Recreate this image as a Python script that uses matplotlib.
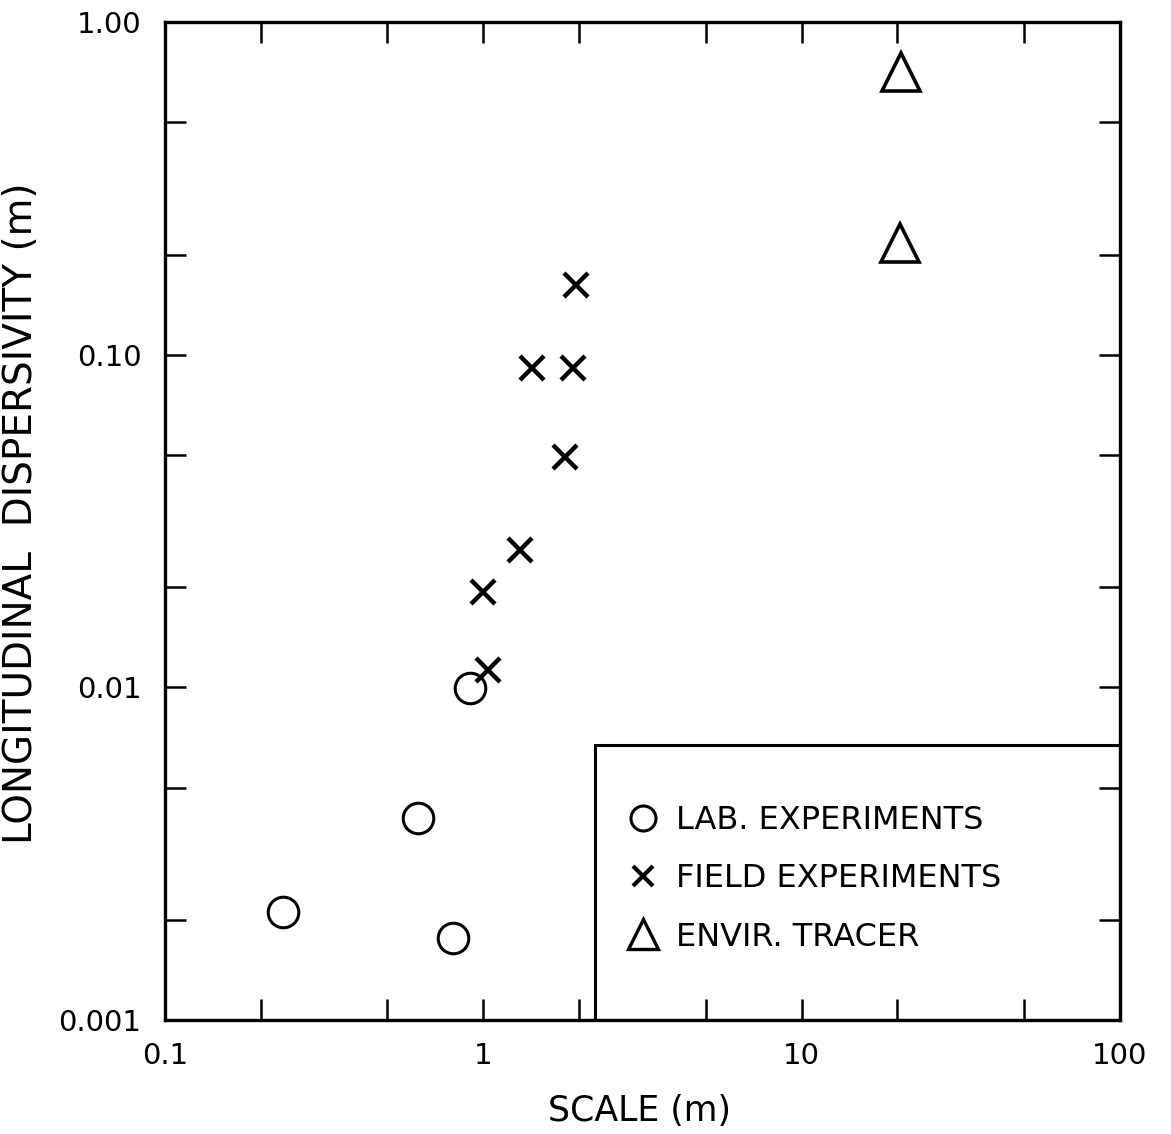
import matplotlib
matplotlib.use("Agg")
import matplotlib.pyplot as plt
from matplotlib.patches import Rectangle
from matplotlib.lines import Line2D
from matplotlib.ticker import FixedLocator, NullLocator, FixedFormatter

# données
lab_scale = [0.235, 0.624, 0.804, 0.908]
lab_disp = [0.00211, 0.00405, 0.00177, 0.00996]

field_scale = [1.035, 0.998, 1.30, 1.81, 1.42, 1.91, 1.95]
field_disp = [0.0113, 0.0194, 0.0259, 0.0493, 0.0912, 0.0912, 0.162]

tracer_scale = [20.5, 20.4]
tracer_disp = [0.707, 0.217]

series_labels = ["LAB. EXPERIMENTS", "FIELD EXPERIMENTS", "ENVIR. TRACER"]

x_major = [0.1, 1, 10, 100]
x_major_labels = ["0.1", "1", "10", "100"]
x_minor = [0.2, 0.5, 2, 5, 20, 50]
y_major = [0.001, 0.01, 0.1, 1.0]
y_major_labels = ["0.001", "0.01", "0.10", "1.00"]
y_minor = [0.002, 0.005, 0.02, 0.05, 0.2, 0.5]

plt.rcParams["font.family"] = ["DejaVu Sans"]

fig = plt.figure(figsize=(11.71, 11.34), dpi=100)
ax = fig.add_axes([0.1409, 0.1005, 0.8155, 0.8801])

ax.plot(lab_scale, lab_disp, linestyle="none", marker="o", markersize=22,
        markerfacecolor="none", markeredgecolor="black", markeredgewidth=2.2)
ax.plot(field_scale, field_disp, linestyle="none", marker="x", markersize=17,
        markeredgecolor="black", markeredgewidth=3.2)
ax.plot(tracer_scale, tracer_disp, linestyle="none", marker="^", markersize=28,
        markerfacecolor="none", markeredgecolor="black", markeredgewidth=2.6)

ax.set_xscale("log")
ax.set_yscale("log")
ax.set_xlim(0.1, 100)
ax.set_ylim(0.001, 1.0)

ax.xaxis.set_major_locator(FixedLocator(x_major + x_minor))
ax.xaxis.set_major_formatter(FixedFormatter(x_major_labels + [""] * len(x_minor)))
ax.xaxis.set_minor_locator(NullLocator())
ax.yaxis.set_major_locator(FixedLocator(y_major + y_minor))
ax.yaxis.set_major_formatter(FixedFormatter(y_major_labels + [""] * len(y_minor)))
ax.yaxis.set_minor_locator(NullLocator())

ax.tick_params(which="both", direction="in", length=15, width=1.8,
               top=True, right=True, labelsize=21, colors="black")
ax.tick_params(axis="y", pad=17)
ax.tick_params(axis="x", pad=16)
for sp in ax.spines.values():
    sp.set_linewidth(2.4)

ax.set_xlabel("SCALE (m)", fontsize=25)
ax.xaxis.set_label_coords(0.497, -0.074)
ax.set_ylabel("LONGITUDINAL  DISPERSIVITY (m)", fontsize=28)
ax.yaxis.set_label_coords(-0.131, 0.508)

# cadre de la légende
ax.add_patch(Rectangle((0.450, 0.0), 0.55, 0.276, transform=ax.transAxes,
                       fill=False, edgecolor="black", linewidth=2.2, zorder=3))
handles = [
    Line2D([], [], linestyle="none", marker="o", markersize=18,
           markerfacecolor="none", markeredgecolor="black", markeredgewidth=2.2),
    Line2D([], [], linestyle="none", marker="x", markersize=14,
           markeredgecolor="black", markeredgewidth=3),
    Line2D([], [], linestyle="none", marker="^", markersize=22,
           markerfacecolor="none", markeredgecolor="black", markeredgewidth=2.4),
]
ax.legend(handles, series_labels, loc="upper left", bbox_to_anchor=(0.47, 0.228),
          frameon=False, fontsize=23, handletextpad=0.55, labelspacing=0.85,
          borderaxespad=0, handlelength=1.0)

fig.savefig("out.png", dpi=100)
